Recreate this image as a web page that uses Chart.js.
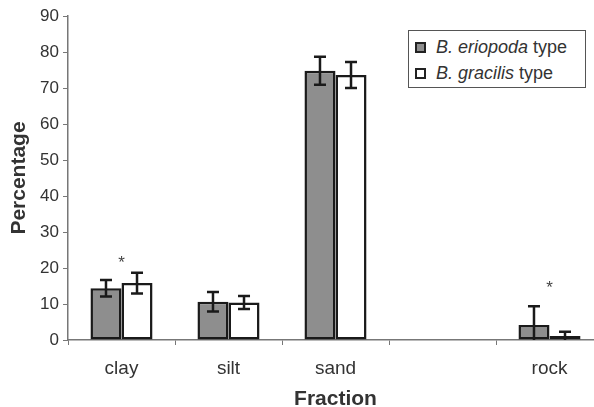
<!DOCTYPE html>
<html>
<head>
<meta charset="utf-8">
<script src="https://cdn.jsdelivr.net/npm/chart.js@4"></script>
<style>
  html, body { margin: 0; padding: 0; background: #fff; overflow: hidden; width: 594px; height: 407px; }
  #wrap { position: relative; width: 594px; height: 407px; overflow: hidden; }
  canvas { position: absolute; left: 0; top: 0; }
  #legend {
    position: absolute; left: 408px; top: 30px; width: 178px; height: 58px;
    border: 1.5px solid #555; box-sizing: border-box; background: #fff;
    font-family: "Liberation Sans", Arial, sans-serif; font-size: 18px; color: #333;
  }
  .item { position: absolute; left: 6px; height: 20px; line-height: 20px; white-space: nowrap; }
  .sw { display: inline-block; width: 7px; height: 7px; border: 2px solid #222; vertical-align: 0px; margin-right: 10px; }
</style>
</head>
<body>
<div id="wrap">
  <canvas id="chart" width="620" height="412"></canvas>
  <div id="legend">
    <div class="item" style="top:6px"><span class="sw" style="background:#8e8e8e"></span><i>B. eriopoda</i> type</div>
    <div class="item" style="top:32px"><span class="sw" style="background:#fff"></span><i>B. gracilis</i> type</div>
  </div>
</div>
<script>
// ─── DATOS ────────────────────────────────────────────────────────────────
const categorias   = ["clay", "silt", "sand", "", "rock"];
const eriopoda     = [14.4, 10.6, 74.8, null, 4.2];
const eriopodaErr  = [2.3, 2.7, 3.9, null, 5.2];
const gracilis     = [15.8, 10.4, 73.6, null, 1.1];
const gracilisErr  = [2.9, 1.8, 3.6, null, 1.2];
const asteriscos   = [22.5, null, null, null, 15.5];
const yTicks       = [0, 10, 20, 30, 40, 50, 60, 70, 80, 90];

const FONT = "'Liberation Sans', Arial, sans-serif";
const errores = [eriopodaErr, gracilisErr];

// Barras de error con tapa
const errorBars = {
  id: "errorBars",
  afterDatasetsDraw(chart) {
    const ctx = chart.ctx;
    const y = chart.scales.y;
    ctx.save();
    ctx.strokeStyle = "#1a1a1a";
    ctx.lineWidth = 2.5;
    chart.data.datasets.forEach((ds, i) => {
      const meta = chart.getDatasetMeta(i);
      meta.data.forEach((bar, j) => {
        const v = ds.data[j], e = errores[i][j];
        if (v == null || e == null) return;
        const top = y.getPixelForValue(v + e);
        const bot = y.getPixelForValue(Math.max(0, v - e));
        ctx.beginPath();
        ctx.moveTo(bar.x, top); ctx.lineTo(bar.x, bot);
        ctx.moveTo(bar.x - 6, top); ctx.lineTo(bar.x + 6, top);
        if (v - e > 0) { ctx.moveTo(bar.x - 6, bot); ctx.lineTo(bar.x + 6, bot); }
        ctx.stroke();
      });
    });
    // asteriscos de significancia
    ctx.fillStyle = "#444";
    ctx.font = "17px " + FONT;
    ctx.textAlign = "center";
    ctx.textBaseline = "middle";
    asteriscos.forEach((a, j) => {
      if (a == null) return;
      ctx.fillText("*", chart.scales.x.getPixelForValue(j), y.getPixelForValue(a) + 4);
    });
    ctx.restore();
  }
};

new Chart(document.getElementById("chart"), {
  type: "bar",
  data: {
    labels: categorias,
    datasets: [
      { label: "B. eriopoda type", data: eriopoda, backgroundColor: "#8e8e8e", borderColor: "#1a1a1a", borderWidth: 2.5, borderSkipped: false },
      { label: "B. gracilis type", data: gracilis, backgroundColor: "#ffffff", borderColor: "#1a1a1a", borderWidth: 2.5, borderSkipped: false }
    ]
  },
  options: {
    responsive: false,
    animation: false,
    layout: { padding: { top: 16, right: 17, left: 0, bottom: 0 } },
    categoryPercentage: 0.58,
    barPercentage: 1.0,
    plugins: { legend: { display: false }, tooltip: { enabled: false } },
    scales: {
      x: {
        grid: { display: true, drawOnChartArea: false, offset: true, color: "#777", tickLength: 5, tickWidth: 1 },
        border: { color: "#777", width: 1.5 },
        ticks: { color: "#333", font: { family: FONT, size: 19 }, padding: 12 },
        title: { display: true, text: "Fraction", color: "#333", font: { family: FONT, size: 21, weight: "bold" }, padding: { top: 4, bottom: 0 } },
        afterFit: s => { s.height = 72; }
      },
      y: {
        min: 0, max: 90,
        afterBuildTicks: s => { s.ticks = yTicks.map(v => ({ value: v })); },
        grid: { display: true, drawOnChartArea: false, color: "#777", tickLength: 5, tickWidth: 1 },
        border: { color: "#777", width: 1.5 },
        ticks: { color: "#333", font: { family: FONT, size: 17 }, padding: 4 },
        title: { display: true, text: "Percentage", color: "#333", font: { family: FONT, size: 21, weight: "bold" }, padding: { top: 7, bottom: 4 } },
        afterFit: s => { s.width = 68; }
      }
    }
  },
  plugins: [errorBars]
});
</script>
</body>
</html>
